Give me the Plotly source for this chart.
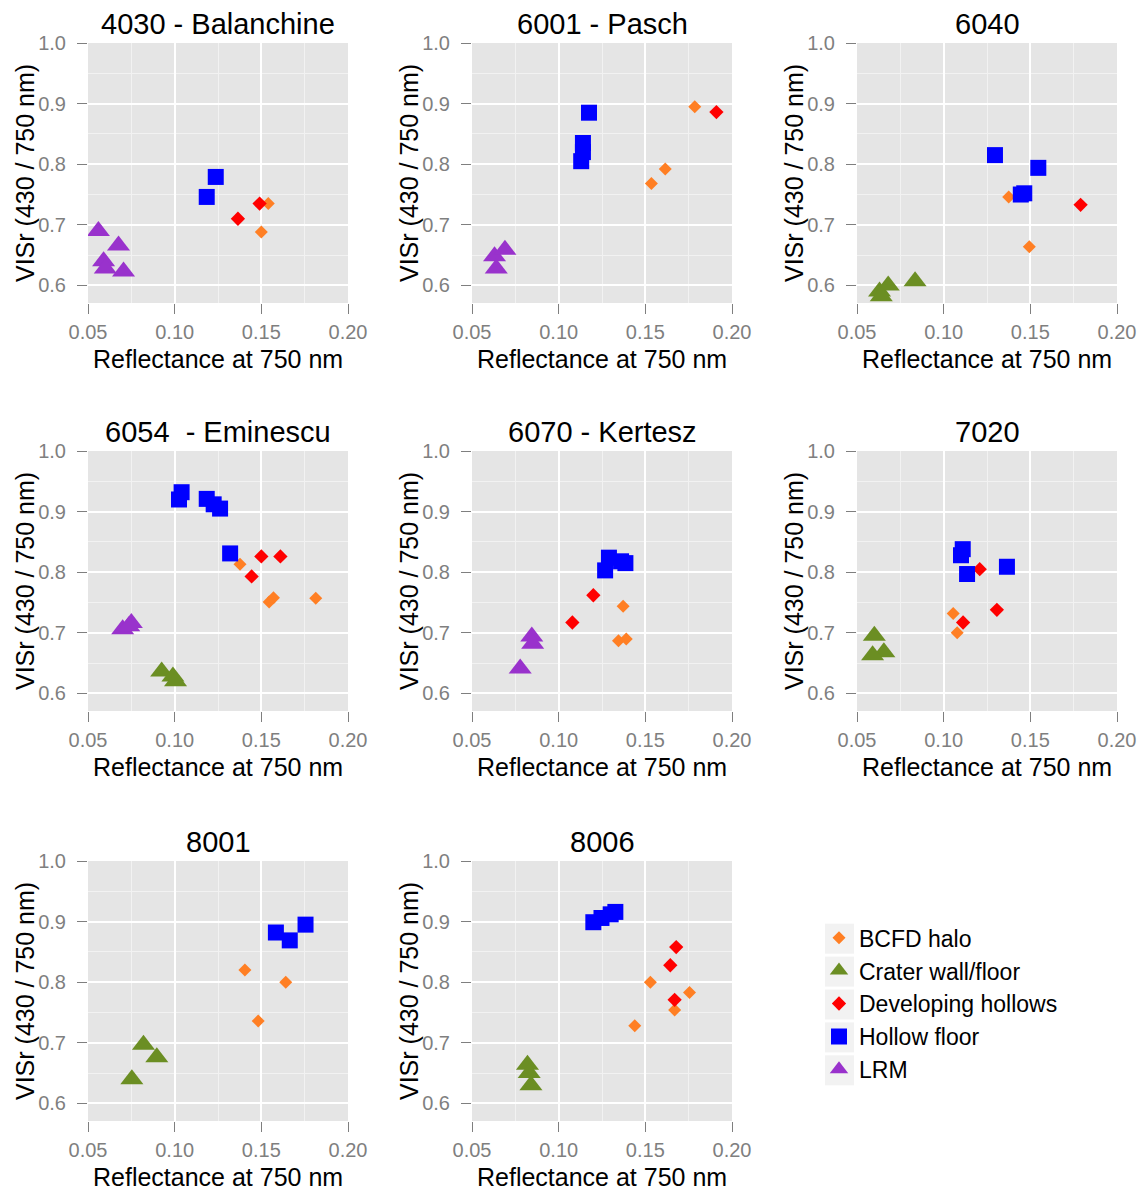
import plotly.graph_objects as go

# ---------------- data ----------------
panel_titles = ["4030 - Balanchine", "6001 - Pasch", "6040",
                "6054\u00a0 - Eminescu", "6070 - Kertesz", "7020",
                "8001", "8006"]
categories = ["BCFD halo", "Crater wall/floor", "Developing hollows",
              "Hollow floor", "LRM"]

# BCFD halo
bcfd_panel = ["4030 - Balanchine"] * 2 + ["6001 - Pasch"] * 3 + ["6040"] * 2 + \
             ["6054\u00a0 - Eminescu"] * 4 + ["6070 - Kertesz"] * 3 + ["7020"] * 2 + \
             ["8001"] * 3 + ["8006"] * 4
bcfd_x = [0.154, 0.150, 0.1785, 0.1615, 0.1535, 0.1375, 0.1494,
          0.1377, 0.157, 0.1545, 0.1814, 0.1372, 0.1345, 0.139,
          0.1055, 0.1078, 0.1405, 0.1641, 0.1482,
          0.1529, 0.1755, 0.1669, 0.1439]
bcfd_y = [0.735, 0.688, 0.895, 0.792, 0.768, 0.746, 0.664,
          0.813, 0.758, 0.751, 0.757, 0.744, 0.687, 0.690,
          0.732, 0.700, 0.820, 0.800, 0.736,
          0.800, 0.783, 0.754, 0.728]

# Crater wall/floor
crater_panel = ["6040"] * 4 + ["6054\u00a0 - Eminescu"] * 3 + ["7020"] * 3 + \
               ["8001"] * 3 + ["8006"] * 3
crater_x = [0.063, 0.068, 0.064, 0.0835, 0.0925, 0.099, 0.1005,
            0.060, 0.0655, 0.059, 0.082, 0.0897, 0.0753, 0.082, 0.083, 0.084]
crater_y = [0.590, 0.600, 0.582, 0.607, 0.636, 0.628, 0.620,
            0.695, 0.668, 0.663, 0.697, 0.676, 0.640, 0.664, 0.650, 0.630]

# Developing hollows
dev_panel = ["4030 - Balanchine"] * 2 + ["6001 - Pasch"] + ["6040"] + \
            ["6054\u00a0 - Eminescu"] * 3 + ["6070 - Kertesz"] * 2 + ["7020"] * 3 + ["8006"] * 3
dev_x = [0.1365, 0.149, 0.191, 0.179, 0.150, 0.161, 0.1444,
         0.1200, 0.1079, 0.1208, 0.1307, 0.1112, 0.1678, 0.1644, 0.1669]
dev_y = [0.710, 0.735, 0.886, 0.733, 0.826, 0.826, 0.793,
         0.762, 0.717, 0.805, 0.738, 0.717, 0.858, 0.828, 0.771]

# Hollow floor
hollow_panel = ["4030 - Balanchine"] * 2 + ["6001 - Pasch"] * 4 + ["6040"] * 4 + \
               ["6054\u00a0 - Eminescu"] * 6 + ["6070 - Kertesz"] * 4 + ["7020"] * 4 + \
               ["8001"] * 3 + ["8006"] * 4
hollow_x = [0.1185, 0.1237, 0.1175, 0.114, 0.114, 0.113,
            0.1296, 0.1546, 0.1445, 0.1465,
            0.104, 0.1025, 0.1185, 0.1225, 0.1262, 0.132,
            0.129, 0.1268, 0.136, 0.1385,
            0.111, 0.110, 0.1135, 0.1365,
            0.1584, 0.1664, 0.1755,
            0.120, 0.1247, 0.130, 0.1327]
hollow_y = [0.746, 0.779, 0.885, 0.835, 0.820, 0.805,
            0.815, 0.794, 0.750, 0.752,
            0.932, 0.920, 0.921, 0.912, 0.905, 0.831,
            0.824, 0.803, 0.818, 0.815,
            0.838, 0.828, 0.797, 0.809,
            0.882, 0.869, 0.895,
            0.899, 0.906, 0.912, 0.916]

# LRM
lrm_panel = ["4030 - Balanchine"] * 5 + ["6001 - Pasch"] * 3 + \
            ["6054\u00a0 - Eminescu"] * 3 + ["6070 - Kertesz"] * 3
lrm_x = [0.056, 0.0676, 0.059, 0.060, 0.0705, 0.063, 0.069, 0.064,
         0.070, 0.0735, 0.075, 0.0845, 0.085, 0.0778]
lrm_y = [0.690, 0.666, 0.640, 0.628, 0.623, 0.648, 0.659, 0.628,
         0.706, 0.711, 0.716, 0.694, 0.682, 0.641]

x_ticks = [0.05, 0.10, 0.15, 0.20]
y_ticks = [0.6, 0.7, 0.8, 0.9, 1.0]

# ---------------- styling ----------------
W, H = 1141, 1194
FONT = "Liberation Sans, Arial, sans-serif"
series = [
    (categories[0], bcfd_panel, bcfd_x, bcfd_y, "#FF7F24", "diamond", 10),
    (categories[1], crater_panel, crater_x, crater_y, "#6B8E23", "triangle-up", 20),
    (categories[2], dev_panel, dev_x, dev_y, "#FF0000", "diamond", 11),
    (categories[3], hollow_panel, hollow_x, hollow_y, "#0000FF", "square", 16),
    (categories[4], lrm_panel, lrm_x, lrm_y, "#9932CC", "triangle-up", 20),
]

col_left = [88, 472, 857]
panel_w = 260
row_top = [43, 451, 861]
panel_h = 260

fig = go.Figure()

for name, pan, xs, ys, color, sym, size in series:
    first = True
    for i, t in enumerate(panel_titles):
        px_ = [x for p, x in zip(pan, xs) if p == t]
        py_ = [y for p, y in zip(pan, ys) if p == t]
        if not px_:
            continue
        suffix = "" if i == 0 else str(i + 1)
        fig.add_trace(go.Scatter(
            x=px_, y=py_, mode="markers", name=name,
            legendgroup=name, showlegend=first,
            xaxis="x" + suffix, yaxis="y" + suffix,
            marker=dict(color=color, symbol=sym, size=size, line=dict(width=0)),
        ))
        first = False

annotations = []
layout = {}
for i, t in enumerate(panel_titles):
    r, c = divmod(i, 3)
    l = col_left[c]
    top = row_top[r]
    xd = [l / W, (l + panel_w) / W]
    yd = [1 - (top + panel_h) / H, 1 - top / H]
    suffix = "" if i == 0 else str(i + 1)
    common = dict(showline=False, zeroline=False, ticks="outside", ticklen=10,
                  tickwidth=1.3, tickcolor="#7F7F7F", automargin=False,
                  tickfont=dict(family=FONT, size=20, color="#7F7F7F"),
                  showgrid=True, gridcolor="#FFFFFF", gridwidth=1.6)
    layout["xaxis" + suffix] = dict(
        domain=xd, range=[0.05, 0.20], tickvals=x_ticks, tickformat=".2f",
        anchor="y" + suffix, ticklabelstandoff=1,
        minor=dict(dtick=0.025, tick0=0.05, showgrid=True, gridcolor="#F2F2F2",
                   gridwidth=0.8, ticks=""),
        **common)
    layout["yaxis" + suffix] = dict(
        domain=yd, range=[0.571, 1.0], tickvals=y_ticks, tickformat=".1f",
        anchor="x" + suffix, ticklabelstandoff=7,
        minor=dict(dtick=0.05, tick0=0.55, showgrid=True, gridcolor="#F2F2F2",
                   gridwidth=0.8, ticks=""),
        **common)
    cx = (l + panel_w / 2) / W
    annotations.append(dict(text=t, x=cx, y=1 - (top - 19) / H, xref="paper", yref="paper",
                            xanchor="center", yanchor="middle", showarrow=False,
                            font=dict(family=FONT, size=29, color="#000000")))
    annotations.append(dict(text="Reflectance at 750 nm", x=cx,
                            y=1 - (top + panel_h + 56) / H, xref="paper", yref="paper",
                            xanchor="center", yanchor="middle", showarrow=False,
                            font=dict(family=FONT, size=25, color="#000000")))
    annotations.append(dict(text="VISr (430 / 750 nm)", x=(l - 63) / W,
                            y=1 - (top + panel_h / 2) / H, xref="paper", yref="paper",
                            xanchor="center", yanchor="middle", showarrow=False,
                            textangle=-90,
                            font=dict(family=FONT, size=25, color="#000000")))

LEG_FONT = 23
row_step = LEG_FONT * 1.3 + 3
mid = 1004.5
shapes = []
for k in range(5):
    cy = mid + (k - 2) * row_step
    shapes.append(dict(type="rect", xref="paper", yref="paper",
                       x0=825 / W, x1=854 / W, y0=1 - (cy + 15) / H, y1=1 - (cy - 15) / H,
                       fillcolor="#F2F2F2", line=dict(width=0), layer="below"))

fig.update_layout(
    width=W, height=H, margin=dict(l=0, r=0, t=0, b=0, autoexpand=False),
    paper_bgcolor="#FFFFFF", plot_bgcolor="#E5E5E5",
    annotations=annotations, shapes=shapes,
    legend=dict(x=819 / W, y=1 - (mid - 2.5 * row_step - 6) / H, xanchor="left", yanchor="top",
                bgcolor="rgba(0,0,0,0)", borderwidth=0, tracegroupgap=0,
                font=dict(family=FONT, size=LEG_FONT, color="#000000"),
                itemsizing="trace"),
    **layout,
)

fig.write_html("out.html")
